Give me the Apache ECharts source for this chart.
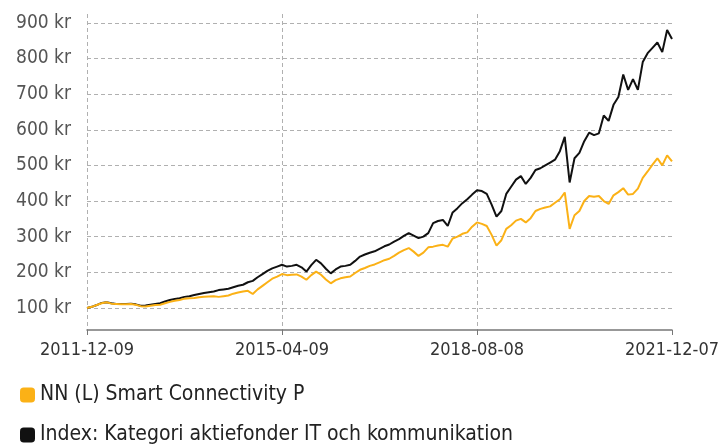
<!DOCTYPE html>
<html>
<head>
<meta charset="utf-8"/>
<title>NN (L) Smart Connectivity P</title>
<script src="https://cdn.jsdelivr.net/npm/echarts@6/dist/echarts.min.js"></script>
<style>
	* { margin: 0; padding: 0; }
	body { background: #fff; }
	#chart { width: 726px; height: 444px; }
</style>
</head>
<body>
<div id="chart"></div>
<script>
// one point per month, 2011-12 .. 2021-12
var months = [
	'2011-12',
	'2012-01','2012-02','2012-03','2012-04','2012-05','2012-06','2012-07','2012-08','2012-09','2012-10','2012-11','2012-12',
	'2013-01','2013-02','2013-03','2013-04','2013-05','2013-06','2013-07','2013-08','2013-09','2013-10','2013-11','2013-12',
	'2014-01','2014-02','2014-03','2014-04','2014-05','2014-06','2014-07','2014-08','2014-09','2014-10','2014-11','2014-12',
	'2015-01','2015-02','2015-03','2015-04','2015-05','2015-06','2015-07','2015-08','2015-09','2015-10','2015-11','2015-12',
	'2016-01','2016-02','2016-03','2016-04','2016-05','2016-06','2016-07','2016-08','2016-09','2016-10','2016-11','2016-12',
	'2017-01','2017-02','2017-03','2017-04','2017-05','2017-06','2017-07','2017-08','2017-09','2017-10','2017-11','2017-12',
	'2018-01','2018-02','2018-03','2018-04','2018-05','2018-06','2018-07','2018-08','2018-09','2018-10','2018-11','2018-12',
	'2019-01','2019-02','2019-03','2019-04','2019-05','2019-06','2019-07','2019-08','2019-09','2019-10','2019-11','2019-12',
	'2020-01','2020-02','2020-03','2020-04','2020-05','2020-06','2020-07','2020-08','2020-09','2020-10','2020-11','2020-12',
	'2021-01','2021-02','2021-03','2021-04','2021-05','2021-06','2021-07','2021-08','2021-09','2021-10','2021-11','2021-12'
];
var tickLabels = ['2011-12-09', '2015-04-09', '2018-08-08', '2021-12-07'];
var yTicks = [100, 200, 300, 400, 500, 600, 700, 800, 900];

var fundName = 'NN (L) Smart Connectivity P';
var indexName = 'Index: Kategori aktiefonder IT och kommunikation';

var fund = [
	100,103,108,113,116,112,111,110,110,111,
	109,105,104,106,108,109,113,117,120,122,
	126,127,128,130,131,132,133,131,133,135,
	140,143,146,148,139,152,162,172,182,188,
	195,192,193,194,188,179,192,202,193,180,
	169,178,183,186,188,198,207,212,218,222,
	228,234,238,246,255,262,268,258,246,255,
	270,272,275,277,272,295,300,308,312,328,
	340,336,330,305,275,290,322,332,345,350,
	340,352,372,378,382,385,395,405,424,322,
	360,372,400,414,412,414,400,392,416,425,
	436,418,420,435,465,483,502,520,500,528,511
];
var index = [
	100,103,108,114,116,113,111,111,111,112,
	110,106,107,109,111,113,118,122,125,127,
	131,133,136,139,142,144,146,150,152,154,
	158,162,165,172,176,186,195,204,211,216,
	221,216,218,221,214,202,220,235,225,210,
	197,208,216,218,221,232,244,250,255,259,
	266,273,278,286,293,302,310,303,296,300,
	310,338,344,347,330,368,380,394,405,418,
	430,428,420,390,356,372,420,440,460,470,
	448,465,487,492,500,508,516,540,580,452,
	520,535,568,592,585,590,640,625,670,692,
	755,712,742,712,790,815,830,845,818,880,855
];

var font = "'DejaVu Sans Condensed', 'Liberation Sans Narrow', sans-serif";

function legendRow(name, top) {
	return {
		left: 15,
		top: top,
		itemWidth: 15,
		itemHeight: 15,
		icon: 'roundRect',
		data: [name],
		textStyle: { fontFamily: font, fontSize: 21, lineHeight: 22, color: '#222' }
	};
}

var chart = echarts.init(document.getElementById('chart'));
chart.setOption({
	animation: false,
	grid: { left: 87, right: 54, top: 14, bottom: 114 },
	legend: [legendRow(fundName, 379), legendRow(indexName, 419)],
	xAxis: {
		type: 'category',
		boundaryGap: false,
		data: months,
		axisLine: { lineStyle: { color: '#777', width: 1.5 } },
		axisTick: { interval: 39, length: 5, lineStyle: { color: '#777' } },
		splitLine: {
			show: true,
			// no dashed line on the right edge
			interval: function (i) { return i % 40 === 0 && i < 120; },
			lineStyle: { color: '#b0b0b0', type: [4, 3] }
		},
		axisLabel: {
			interval: 39,
			margin: 11,
			fontFamily: font,
			fontSize: 18,
			color: '#333',
			formatter: function (v, i) { return tickLabels[Math.round(i / 40)]; }
		}
	},
	yAxis: {
		type: 'value',
		min: 38,
		max: 925,
		axisLine: { show: false },
		axisTick: { show: false, customValues: yTicks },
		splitLine: { lineStyle: { color: '#b0b0b0', type: [4, 3] } },
		axisLabel: {
			customValues: yTicks,
			margin: 16,
			fontFamily: font,
			fontSize: 19,
			color: '#555',
			formatter: '{value} kr'
		}
	},
	series: [
		{
			name: indexName,
			type: 'line',
			data: index,
			showSymbol: false,
			color: '#111',
			lineStyle: { width: 2 }
		},
		{
			name: fundName,
			type: 'line',
			data: fund,
			showSymbol: false,
			color: '#fbb116',
			lineStyle: { width: 2 }
		}
	]
});
</script>
</body>
</html>
